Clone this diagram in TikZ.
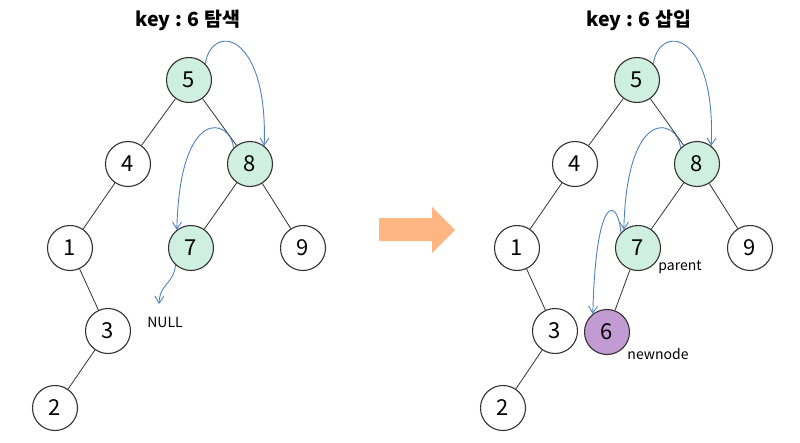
\documentclass[tikz,border=0pt]{standalone}
\usepackage{fontspec}
\setmainfont{Noto Sans CJK KR}
\usetikzlibrary{arrows.meta}
\definecolor{ngreen}{RGB}{207,240,224}
\definecolor{npurple}{RGB}{195,155,211}
\definecolor{cblue}{RGB}{79,129,189}
\definecolor{aorange}{RGB}{255,182,131}
\definecolor{edgec}{RGB}{50,50,50}
\tikzset{
  tn/.style={circle, draw=edgec, line width=1.1pt, minimum size=45pt, inner sep=0pt, fill=white, font=\fontsize{22}{24}\selectfont},
  gn/.style={tn, fill=ngreen},
  pn/.style={tn, fill=npurple},
  edge/.style={draw=edgec, line width=0.8pt},
  trace/.style={draw=cblue, line width=0.9pt, -{Straight Barb[length=7pt,width=9pt]}},
  ttl/.style={font=\bfseries\fontsize{19.5}{22}\selectfont},
  lbl/.style={font=\fontsize{14}{16}\selectfont, inner sep=0pt}
}
\begin{document}
\begin{tikzpicture}[x=1pt,y=-1pt]
\useasboundingbox (0,0) rectangle (800,442);
% titles
\node[ttl] (t1) at (188,20) {key : 6 탐색};
\node[ttl] (t2) at (639,20) {key : 6 삽입};
% left tree
\node[gn] (l5) at (189,80) {5};
\node[tn] (l4) at (128,164) {4};
\node[gn] (l8) at (250,164) {8};
\node[tn] (l1) at (70,248) {1};
\node[gn] (l7) at (191,248) {7};
\node[tn] (l9) at (303,248) {9};
\node[tn] (l3) at (108,331) {3};
\node[tn] (l2) at (55,408) {2};
\draw[edge] (l5) -- (l4);
\draw[edge] (l5) -- (l8);
\draw[edge] (l4) -- (l1);
\draw[edge] (l8) -- (l7);
\draw[edge] (l8) -- (l9);
\draw[edge] (l1) -- (l3);
\draw[edge] (l3) -- (l2);
\node[lbl] (null) at (165,322) {NULL};
\coordinate (nulltip) at (159,304);
\draw[trace] (l5.45) .. controls (212,22) and (268,32) .. (l8.52);
\draw[trace] (l8.135) .. controls (230,118) and (180,105) .. (l7.128);
\draw[trace] (l7.228) .. controls (173,285) and (160,283) .. (nulltip);
% right tree
\node[gn] (r5) at (637,80) {5};
\node[tn] (r4) at (575,164) {4};
\node[gn] (r8) at (697,164) {8};
\node[tn] (r1) at (517,248) {1};
\node[gn] (r7) at (638,248) {7};
\node[tn] (r9) at (750,248) {9};
\node[tn] (r3) at (555,331) {3};
\node[pn] (r6) at (607,332) {6};
\node[tn] (r2) at (503,408) {2};
\draw[edge] (r5) -- (r4);
\draw[edge] (r5) -- (r8);
\draw[edge] (r4) -- (r1);
\draw[edge] (r8) -- (r7);
\draw[edge] (r8) -- (r9);
\draw[edge] (r1) -- (r3);
\draw[edge] (r3) -- (r2);
\draw[edge] (r7) -- (r6);
\node[lbl] (par) at (680,267) {parent};
\node[lbl] (newn) at (658,354) {newnode};
\draw[trace] (r5.45) .. controls (660,22) and (716,32) .. (r8.52);
\draw[trace] (r8.135) .. controls (677,118) and (627,105) .. (r7.128);
\draw[trace] (r7.138) .. controls (618,198) and (596,190) .. (r6.128);
% big arrow
\fill[aorange] (379,218) -- (432,218) -- (432,207) -- (455,230) -- (432,253) -- (432,241) -- (379,241) -- cycle;
\end{tikzpicture}
\end{document}
